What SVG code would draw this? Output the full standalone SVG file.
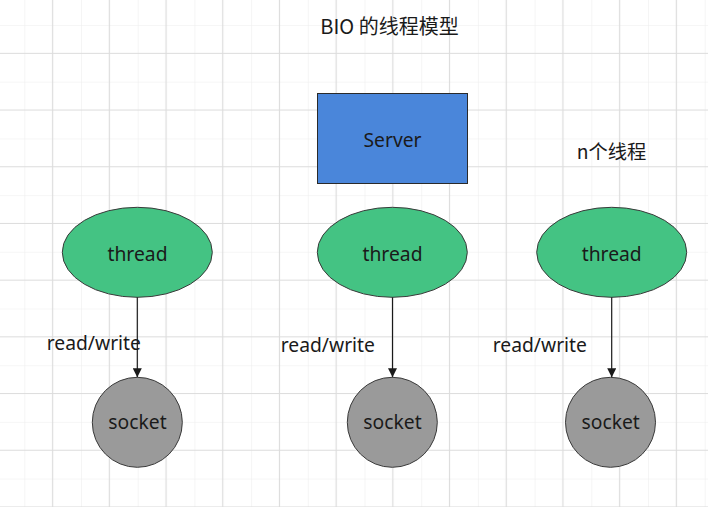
<svg xmlns="http://www.w3.org/2000/svg" width="708" height="507" viewBox="0 0 708 507">
  <defs>
    <pattern id="grid" patternUnits="userSpaceOnUse" x="24.3" y="25" width="56.7" height="56.7">
      <path d="M0 0V56.7M0 0H56.7" stroke="#eeeeee" stroke-width="1.2" fill="none"/>
      <path d="M28.35 0V56.7M0 28.35H56.7" stroke="#dcdcdc" stroke-width="1.2" fill="none"/>
    </pattern>
    <marker id="arrow" markerWidth="9" markerHeight="9" refX="9" refY="4.5" orient="auto" markerUnits="userSpaceOnUse">
      <path d="M0 0L9 4.5L0 9Z" fill="#1a1a1a"/>
    </marker>
  </defs>
  <style>
    text { font-family: "Noto Sans", "Noto Sans CJK SC", sans-serif; font-size: 19.3px; fill: #1a1a1a; }
    .c { text-anchor: middle; }
    .cjk { font-family: "Noto Sans CJK SC", sans-serif; }
    .thread { fill: #44c383; stroke: #3a3a3a; stroke-width: 1; }
    .socket { fill: #9a9a9a; stroke: #3a3a3a; stroke-width: 1; }
    .server { fill: #4a86da; stroke: #2a2a2a; stroke-width: 1; }
    .edge { stroke: #1a1a1a; stroke-width: 1.2; fill: none; marker-end: url(#arrow); }
  </style>
  <rect width="708" height="507" fill="#ffffff"/>
  <rect width="708" height="507" fill="url(#grid)"/>

  <text id="title" class="c cjk" x="389.5" y="33.5" style="font-size: 20px;">BIO 的线程模型</text>
  <text id="n-threads" class="cjk" x="576.7" y="158.5">n个线程</text>

  <g id="server">
    <rect class="server" x="317.5" y="93.5" width="150" height="90"/>
    <text class="c" x="392.5" y="146.5">Server</text>
  </g>

  <g id="thread1">
    <ellipse class="thread" cx="137.3" cy="252.3" rx="75" ry="45"/>
    <text class="c" x="137.5" y="260.5">thread</text>
  </g>
  <g id="thread2">
    <ellipse class="thread" cx="392.3" cy="252.3" rx="75" ry="45"/>
    <text class="c" x="392.5" y="260.5">thread</text>
  </g>
  <g id="thread3">
    <ellipse class="thread" cx="611.7" cy="252.3" rx="75" ry="45"/>
    <text class="c" x="611.7" y="260.5">thread</text>
  </g>

  <g id="socket1">
    <circle class="socket" cx="137.3" cy="422.3" r="45"/>
    <text class="c" x="137.5" y="429.3">socket</text>
  </g>
  <g id="socket2">
    <circle class="socket" cx="392.3" cy="422.3" r="45"/>
    <text class="c" x="392.5" y="429.3">socket</text>
  </g>
  <g id="socket3">
    <circle class="socket" cx="610.5" cy="422.3" r="45"/>
    <text class="c" x="610.7" y="429.3">socket</text>
  </g>

  <g id="connectors">
    <path class="edge" d="M137.3 297.3V377.3"/>
    <path class="edge" d="M392.5 297.3V377.3"/>
    <path class="edge" d="M611.7 297.3V377.3"/>
    <text x="46.7" y="350">read/write</text>
    <text x="280.7" y="352">read/write</text>
    <text x="492.7" y="352">read/write</text>
  </g>
</svg>
